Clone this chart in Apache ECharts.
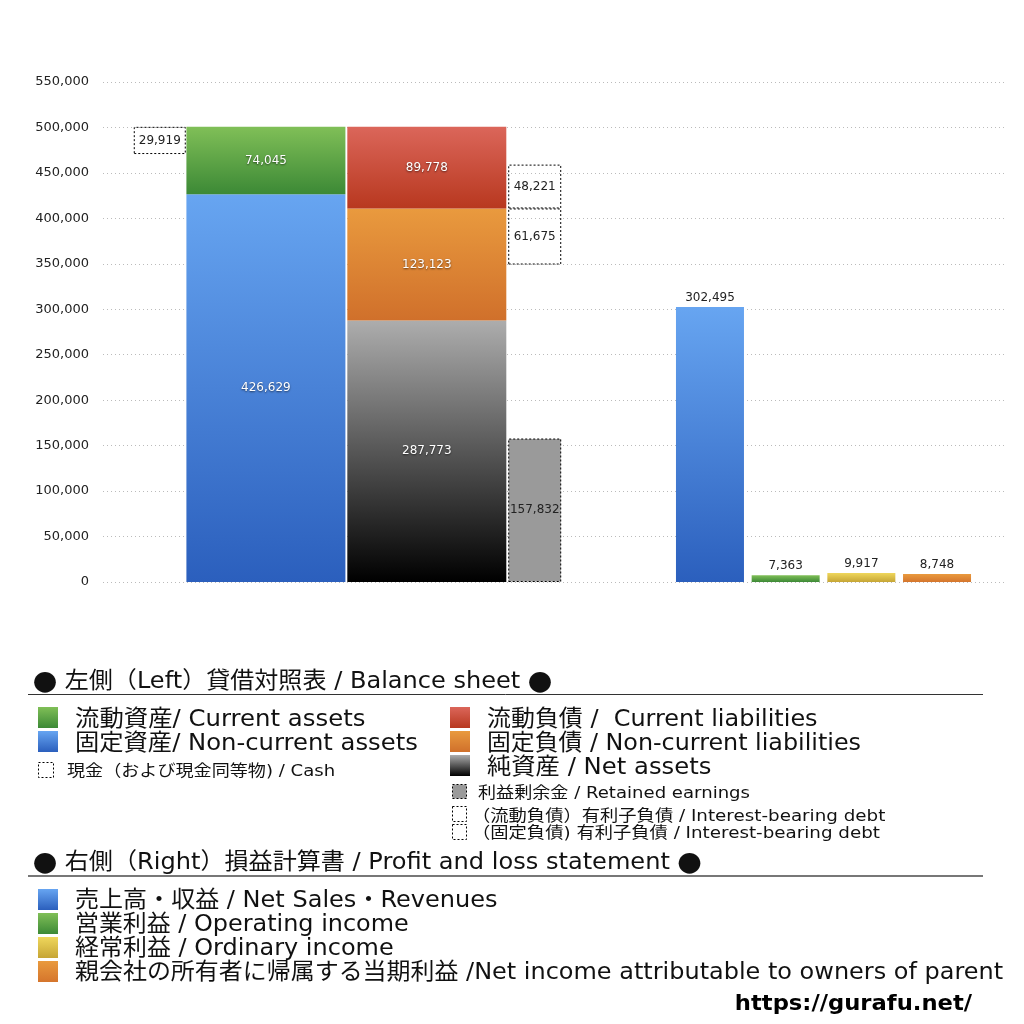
<!DOCTYPE html>
<html>
<head>
<meta charset="utf-8">
<script src="https://cdn.jsdelivr.net/npm/echarts@6/dist/echarts.min.js"></script>
<style>
  html, body { margin: 0; background: #fff; }
  #chart { width: 1024px; height: 1024px; }
</style>
</head>
<body>
<div id="chart"></div>
<script>
// values (yen, millions)
const yMin = 0, yMax = 550000, yStep = 50000;
const assetNames = ['固定資産', '流動資産'];
const assetValues = [426629, 74045];
const cashValues = [29919];
const liabilityNames = ['純資産', '固定負債', '流動負債'];
const liabilityValues = [287773, 123123, 89778];
const extraNames = ['利益剰余金', '（固定負債）有利子負債', '（流動負債）有利子負債'];
const extraValues = [157832, 61675, 48221];
const plNames = ['売上高・収益', '営業利益', '経常利益', '親会社の所有者に帰属する当期利益'];
const plValues = [302495, 7363, 9917, 8748];

const CJK = '"Noto Sans CJK JP", sans-serif';
const FONT = '"DejaVu Sans", "Noto Sans CJK JP", sans-serif';
const NUM = '"DejaVu Sans", sans-serif';
const grad = (a, b) => new echarts.graphic.LinearGradient(0, 0, 0, 1, [
  { offset: 0, color: a }, { offset: 1, color: b }
]);
const BLUE = () => grad('#67a5f1', '#2b5fbd');
const GREEN = () => grad('#80bf57', '#3c8936');
const RED = () => grad('#db665a', '#b8381f');
const ORANGE = () => grad('#e99a3e', '#d0702b');
const BLACK = () => grad('#adadad', '#000000');
const YELLOW = () => grad('#efd75c', '#c6a535');
const ORANGE2 = () => grad('#e99a3e', '#d5752c');

const fmt = (p) => Number(p.value).toLocaleString('en-US');
const whiteLabel = {
  show: true, position: 'inside', color: '#fff', fontSize: 12, fontFamily: NUM,
  formatter: fmt, textShadowColor: 'rgba(0,0,0,0.6)', textShadowBlur: 2, textShadowOffsetY: 1
};
const blackLabel = {
  show: true, position: 'inside', color: '#222', fontSize: 12, fontFamily: NUM, formatter: fmt
};
const dotted = { color: 'rgba(255,255,255,0)', borderColor: '#000', borderWidth: 1, borderType: [2, 2] };
const hidden = { color: 'rgba(0,0,0,0)' };

const assetsTotal = assetValues[0] + assetValues[1];
const cashBase = assetsTotal - cashValues[0];
const debtGap = liabilityValues[0] + liabilityValues[1] - extraValues[1] - extraValues[0];

function bs(o) {
  return Object.assign({ type: 'bar', xAxisIndex: 1, yAxisIndex: 1, barGap: '1.2%' }, o);
}
function pl(i, color) {
  return {
    type: 'bar', name: plNames[i], xAxisIndex: 2, yAxisIndex: 2, barWidth: 68, barGap: '11.3%',
    data: [plValues[i]], itemStyle: { color: color },
    label: { show: true, position: 'top', color: '#222', fontSize: 12, fontFamily: NUM, formatter: fmt, distance: 3 }
  };
}

const series = [
  bs({ stack: 'cash', barWidth: 52, data: [cashBase], itemStyle: hidden, silent: true }),
  bs({ stack: 'cash', barWidth: 52, name: '現金', data: cashValues, itemStyle: dotted, label: blackLabel }),
  bs({ stack: 'a', barWidth: 159, name: assetNames[0], data: [assetValues[0]], itemStyle: { color: BLUE() }, label: whiteLabel }),
  bs({ stack: 'a', barWidth: 159, name: assetNames[1], data: [assetValues[1]], itemStyle: { color: GREEN() }, label: whiteLabel }),
  bs({ stack: 'l', barWidth: 159, name: liabilityNames[0], data: [liabilityValues[0]], itemStyle: { color: BLACK() }, label: whiteLabel }),
  bs({ stack: 'l', barWidth: 159, name: liabilityNames[1], data: [liabilityValues[1]], itemStyle: { color: ORANGE() }, label: whiteLabel }),
  bs({ stack: 'l', barWidth: 159, name: liabilityNames[2], data: [liabilityValues[2]], itemStyle: { color: RED() }, label: whiteLabel }),
  bs({ stack: 'd', barWidth: 53, name: extraNames[0], data: [extraValues[0]],
       itemStyle: Object.assign({}, dotted, { color: '#9a9a9a' }), label: blackLabel }),
  bs({ stack: 'd', barWidth: 53, data: [debtGap], itemStyle: hidden, silent: true }),
  bs({ stack: 'd', barWidth: 53, name: extraNames[1], data: [extraValues[1]], itemStyle: dotted, label: blackLabel }),
  bs({ stack: 'd', barWidth: 53, name: extraNames[2], data: [extraValues[2]], itemStyle: dotted, label: blackLabel }),
  pl(0, BLUE()), pl(1, GREEN()), pl(2, YELLOW()), pl(3, ORANGE2())
];

// legend drawn as graphic
const g = [];
const txt = (x, y, text, size, sx, extra) => g.push({
  type: 'text', z: 10, x: x, y: y, scaleX: sx,
  style: Object.assign({ x: 0, y: 0, text: text, fill: '#111', verticalAlign: 'middle',
    font: size + 'px ' + FONT,
    rich: { c: { fontFamily: CJK, fontSize: size, fill: '#111' } } }, extra || {})
});
const box = (x, y, w, h, style) => g.push({ type: 'rect', z: 10, shape: { x: x, y: y, width: w, height: h }, style: style });
const dotBox = (x, y, w, h, fill) => box(x + 0.5, y + 0.5, w, h,
  { fill: fill || 'rgba(0,0,0,0)', stroke: '#000', lineWidth: 1, lineDash: [2, 2] });

txt(33, 682, '{c|●} 左側（Left）貸借対照表 / Balance sheet {c|●}', 23, 1.046);
g.push({ type: 'line', z: 10, shape: { x1: 28, y1: 694.5, x2: 983, y2: 694.5 }, style: { stroke: '#333', lineWidth: 1 } });

box(38, 707, 20, 21, { fill: GREEN() });
txt(75, 720, '流動資産/ Current assets', 23, 1.06);
box(38, 731, 20, 21, { fill: BLUE() });
txt(75, 744, '固定資産/ Non-current assets', 23, 1.056);
dotBox(38, 762, 15, 15);
txt(67, 772, '現金（および現金同等物) / Cash', 16, 1.13);

box(450, 707, 20, 21, { fill: RED() });
txt(487, 720, '流動負債 /  Current liabilities', 23, 1.041);
box(450, 731, 20, 21, { fill: ORANGE() });
txt(487, 744, '固定負債 / Non-current liabilities', 23, 1.036);
box(450, 755, 20, 21, { fill: BLACK() });
txt(487, 768, '純資産 / Net assets', 23, 1.057);
dotBox(452, 784, 14, 14, '#9a9a9a');
txt(478, 794, '利益剰余金 / Retained earnings', 16, 1.13);
dotBox(452, 806, 14, 15);
txt(472, 817, '（流動負債）有利子負債 / Interest-bearing debt', 16, 1.143);
dotBox(452, 824, 14, 15);
txt(472, 834, '（固定負債) 有利子負債 / Interest-bearing debt', 16, 1.143);

txt(33, 863, '{c|●} 右側（Right）損益計算書 / Profit and loss statement {c|●}', 23, 1.047);
g.push({ type: 'line', z: 10, shape: { x1: 28, y1: 876, x2: 983, y2: 876 }, style: { stroke: '#777', lineWidth: 2 } });

box(38, 889, 20, 21, { fill: BLUE() });
txt(75, 901, '売上高・収益 / Net Sales・Revenues', 23, 1.045);
box(38, 913, 20, 21, { fill: GREEN() });
txt(75, 925, '営業利益 / Operating income', 23, 1.04);
box(38, 937, 20, 21, { fill: YELLOW() });
txt(75, 949, '経常利益 / Ordinary income', 23, 1.042);
box(38, 961, 20, 21, { fill: ORANGE2() });
txt(75, 973, '親会社の所有者に帰属する当期利益 /Net income attributable to owners of parent', 23, 1.042);
txt(972, 1004, 'https://gurafu.net/', 22, 1.03, { align: 'right', font: 'bold 22px ' + FONT, fill: '#000' });

const yBase = { type: 'value', min: yMin, max: yMax, interval: yStep };
const chart = echarts.init(document.getElementById('chart'));
chart.setOption({
  animation: false,
  backgroundColor: '#fff',
  grid: [
    { left: 103, right: 18, top: 82, bottom: 442 },
    { left: 103, right: 432, top: 82, bottom: 442 },
    { left: 650, right: 27, top: 82, bottom: 442 }
  ],
  xAxis: [
    { type: 'category', gridIndex: 0, data: [''], show: false },
    { type: 'category', gridIndex: 1, data: ['貸借対照表'], show: false },
    { type: 'category', gridIndex: 2, data: ['損益計算書'], show: false }
  ],
  yAxis: [
    Object.assign({}, yBase, {
      gridIndex: 0,
      axisLine: { show: false }, axisTick: { show: false },
      axisLabel: { color: '#222', fontSize: 13, fontFamily: NUM, margin: 14,
        formatter: (v) => v.toLocaleString('en-US') },
      splitLine: { lineStyle: { color: '#bbb', type: [1, 3] } }
    }),
    Object.assign({}, yBase, { gridIndex: 1, show: false, splitLine: { show: false } }),
    Object.assign({}, yBase, { gridIndex: 2, show: false, splitLine: { show: false } })
  ],
  series: series,
  graphic: g
});
</script>
</body>
</html>
